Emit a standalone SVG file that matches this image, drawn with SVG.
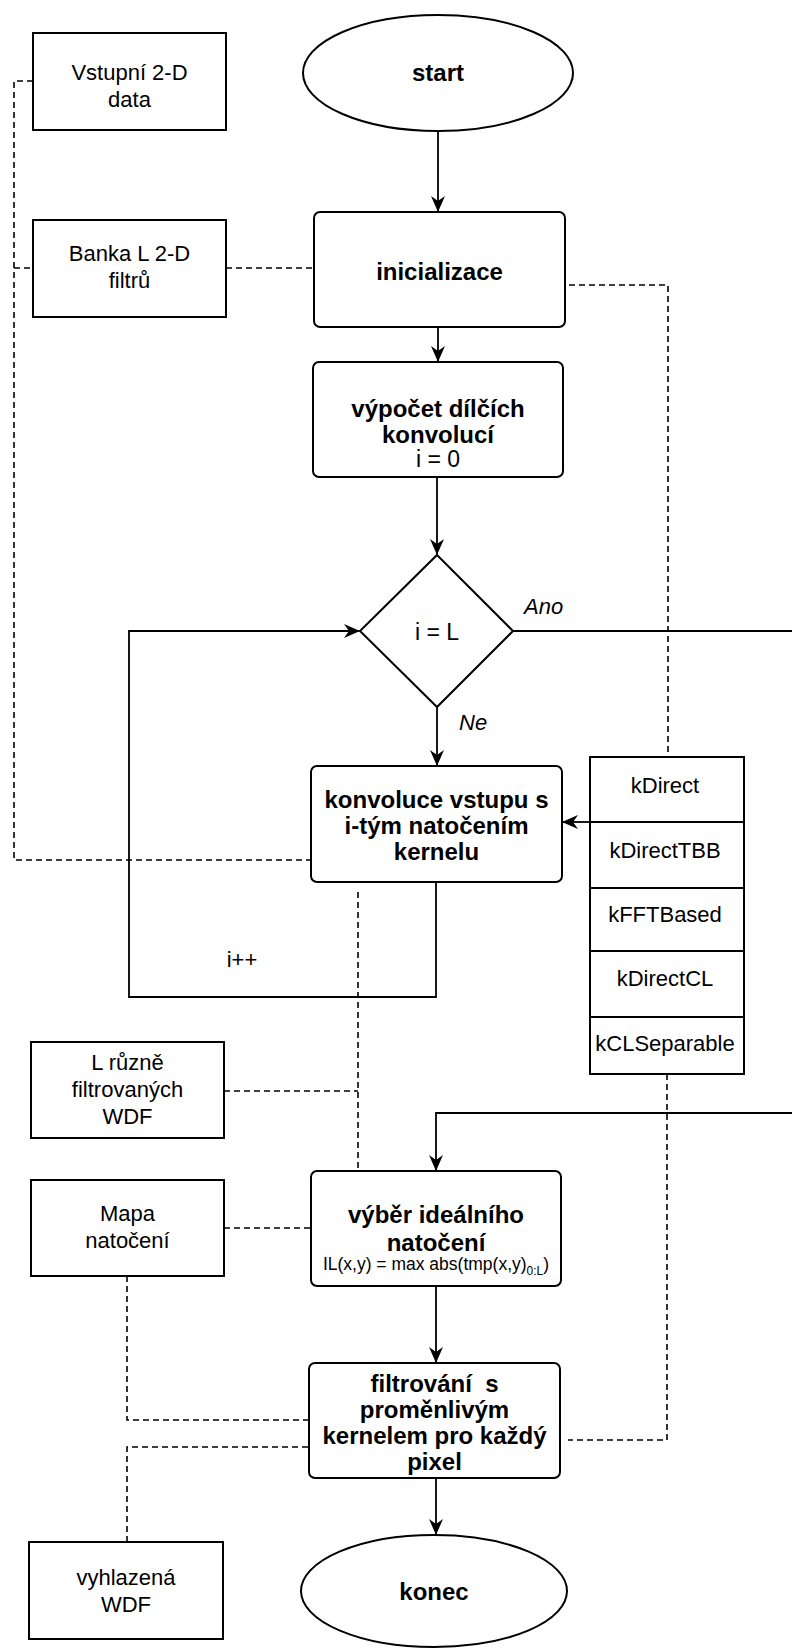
<svg xmlns="http://www.w3.org/2000/svg" width="792" height="1648" viewBox="0 0 792 1648">
<defs>
<style>
.box{fill:#fff;stroke:#000;stroke-width:2}
.ln{fill:none;stroke:#000;stroke-width:1.8}
.dash{fill:none;stroke:#000;stroke-width:1.6;stroke-dasharray:6 4}
.t{font-family:"Liberation Sans",Arial,sans-serif;font-size:22px;text-anchor:middle;fill:#000}
.b{font-family:"Liberation Sans",Arial,sans-serif;font-size:24px;font-weight:bold;text-anchor:middle;fill:#000}
.it{font-family:"Liberation Sans",Arial,sans-serif;font-size:22px;font-style:italic;fill:#000}
</style>
<marker id="arr" markerUnits="userSpaceOnUse" viewBox="0 0 16 16" markerWidth="16" markerHeight="16" refX="15" refY="8" orient="auto">
<path d="M0,1 L16,8 L0,15 L5,8 z" fill="#000"/>
</marker>
</defs>
<rect width="792" height="1648" fill="#fff"/>

<g id="connectors">
<!-- solid flow -->
<line class="ln" x1="438" y1="131" x2="438" y2="211" marker-end="url(#arr)"/>
<line class="ln" x1="438" y1="327" x2="438" y2="361" marker-end="url(#arr)"/>
<line class="ln" x1="437" y1="477" x2="437" y2="554" marker-end="url(#arr)"/>
<line class="ln" x1="437" y1="707" x2="437" y2="765" marker-end="url(#arr)"/>
<polyline class="ln" points="436,882 436,997 129,997 129,631 359,631" marker-end="url(#arr)"/>
<line class="ln" x1="513" y1="631" x2="792" y2="631"/>
<line class="ln" x1="590" y1="822" x2="563" y2="822" marker-end="url(#arr)"/>
<polyline class="ln" points="792,1113 436,1113 436,1170" marker-end="url(#arr)"/>
<line class="ln" x1="436" y1="1286" x2="436" y2="1362" marker-end="url(#arr)"/>
<line class="ln" x1="436" y1="1478" x2="436" y2="1534" marker-end="url(#arr)"/>
<!-- dashed data links -->
<polyline class="dash" points="33,81 14,81 14,860 311,860"/>
<line class="dash" x1="14" y1="268" x2="33" y2="268"/>
<line class="dash" x1="226" y1="268" x2="314" y2="268"/>
<polyline class="dash" points="569,285 668,285 668,756"/>
<line class="dash" x1="358" y1="892" x2="358" y2="1171"/>
<line class="dash" x1="224" y1="1091" x2="358" y2="1091"/>
<line class="dash" x1="224" y1="1228" x2="311" y2="1228"/>
<polyline class="dash" points="127,1276 127,1420 309,1420"/>
<polyline class="dash" points="127,1542 127,1447 309,1447"/>
<polyline class="dash" points="667,1074 667,1440 568,1440"/>
<!-- labels -->
<text class="it" x="524" y="614">Ano</text>
<text class="it" x="459" y="730">Ne</text>
<text class="t" x="242" y="967">i++</text>
</g>

<g id="n-start">
<ellipse class="box" cx="438" cy="73" rx="135" ry="58"/>
<text class="b" x="438" y="81">start</text>
</g>

<g id="n-vstup">
<rect class="box" x="33" y="33" width="193" height="97"/>
<text class="t" x="129.5" y="80">Vstupní 2-D</text>
<text class="t" x="129.5" y="107">data</text>
</g>

<g id="n-banka">
<rect class="box" x="33" y="220" width="193" height="97"/>
<text class="t" x="129.5" y="261">Banka L 2-D</text>
<text class="t" x="129.5" y="288">filtrů</text>
</g>

<g id="n-init">
<rect class="box" x="314" y="212" width="251" height="115" rx="6"/>
<text class="b" x="439.5" y="280">inicializace</text>
</g>

<g id="n-vypocet">
<rect class="box" x="313" y="362" width="250" height="115" rx="6"/>
<text class="b" x="438" y="417">výpočet dílčích</text>
<text class="b" x="438" y="443">konvolucí</text>
<text class="t" x="438" y="467" style="font-size:23px">i = 0</text>
</g>

<g id="n-cond">
<polygon class="box" points="437,555 513,631 437,707 360,631"/>
<text class="t" x="437" y="640" style="font-size:23px">i = L</text>
</g>

<g id="n-konv">
<rect class="box" x="311" y="766" width="251" height="116" rx="6"/>
<text class="b" x="436.5" y="808">konvoluce vstupu s</text>
<text class="b" x="436.5" y="834">i-tým natočením</text>
<text class="b" x="436.5" y="860">kernelu</text>
</g>

<g id="n-list">
<rect class="box" x="590" y="757" width="154" height="317"/>
<line class="box" x1="590" y1="822" x2="744" y2="822"/>
<line class="box" x1="590" y1="888" x2="744" y2="888"/>
<line class="box" x1="590" y1="951" x2="744" y2="951"/>
<line class="box" x1="590" y1="1017" x2="744" y2="1017"/>
<text class="t" x="665" y="793">kDirect</text>
<text class="t" x="665" y="858">kDirectTBB</text>
<text class="t" x="665" y="922">kFFTBased</text>
<text class="t" x="665" y="986">kDirectCL</text>
<text class="t" x="665" y="1051">kCLSeparable</text>
</g>

<g id="n-lruzne">
<rect class="box" x="31" y="1042" width="193" height="96"/>
<text class="t" x="127.5" y="1070">L různě</text>
<text class="t" x="127.5" y="1097">filtrovaných</text>
<text class="t" x="127.5" y="1124">WDF</text>
</g>

<g id="n-mapa">
<rect class="box" x="31" y="1180" width="193" height="96"/>
<text class="t" x="127.5" y="1221">Mapa</text>
<text class="t" x="127.5" y="1248">natočení</text>
</g>

<g id="n-vyber">
<rect class="box" x="311" y="1171" width="250" height="115" rx="6"/>
<text class="b" x="436" y="1223">výběr ideálního</text>
<text class="b" x="436" y="1251">natočení</text>
<text class="t" x="436" y="1270" style="font-size:17.5px">IL(x,y) = max abs(tmp(x,y)<tspan dy="5" style="font-size:12px">0:L</tspan><tspan dy="-5">)</tspan></text>
</g>

<g id="n-filtr">
<rect class="box" x="309" y="1363" width="251" height="115" rx="6"/>
<text class="b" x="434.5" y="1392" style="white-space:pre">filtrování  s</text>
<text class="b" x="434.5" y="1418">proměnlivým</text>
<text class="b" x="434.5" y="1444">kernelem pro každý</text>
<text class="b" x="434.5" y="1470">pixel</text>
</g>

<g id="n-vyhl">
<rect class="box" x="29" y="1542" width="194" height="97"/>
<text class="t" x="126" y="1585">vyhlazená</text>
<text class="t" x="126" y="1612">WDF</text>
</g>

<g id="n-konec">
<ellipse class="box" cx="434" cy="1591" rx="133" ry="56"/>
<text class="b" x="434" y="1600">konec</text>
</g>
</svg>
